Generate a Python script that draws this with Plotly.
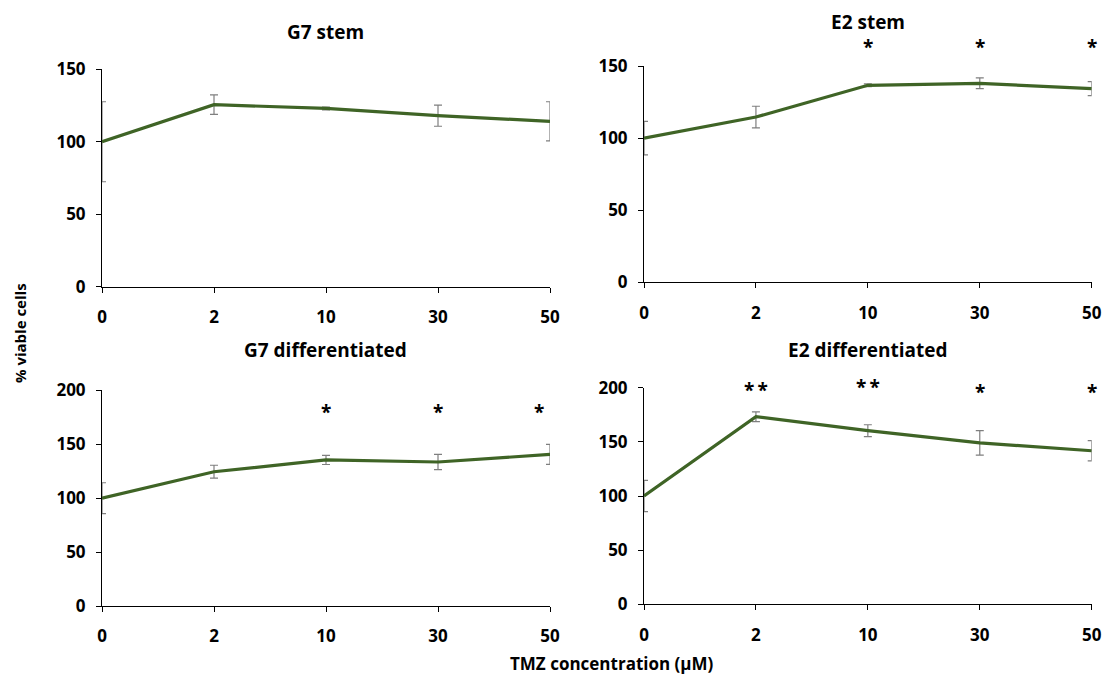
import plotly.graph_objects as go

# TMZ doses (equally spaced categories on the x axis)
doses = ["0", "2", "10", "30", "50"]

# % viable cells (mean) and error (SD) per panel
g7_stem = [100, 125.6, 123.0, 118.0, 114.1]
g7_stem_err = [27.6, 6.7, 1.0, 7.3, 13.5]

e2_stem = [100, 114.6, 136.6, 138.0, 134.3]
e2_stem_err = [11.6, 7.5, 1.0, 3.7, 4.8]

g7_diff = [100, 124.5, 135.4, 133.5, 140.6]
g7_diff_err = [14.3, 6.0, 4.2, 7.0, 9.3]

e2_diff = [100, 173.2, 160.3, 149.0, 141.8]
e2_diff_err = [14.4, 4.5, 5.5, 11.3, 9.4]

# significance markers per dose
e2_stem_sig = ["", "", "*", "*", "*"]
g7_diff_sig = ["", "", "*", "*", "*"]
e2_diff_sig = ["", "*\u2009*", "*\u2009*", "*", "*"]

W, H = 1120, 684
LINE = "#3f6426"
ERR = "#7f7f7f"
FONT = "Open Sans"

panels = [
    # title, values, errors, sig, x px range, y px range (top, bottom), ymax, sig px rows
    ("G7 stem", g7_stem, g7_stem_err, None, (102, 550), (69.3, 286.7), 150, None),
    ("E2 stem", e2_stem, e2_stem_err, e2_stem_sig, (644, 1091.7), (66, 282.3), 150,
     [0, 0, 47, 47, 47]),
    ("G7 differentiated", g7_diff, g7_diff_err, g7_diff_sig, (102, 550), (390.3, 606), 200,
     [0, 0, 412, 412, 412]),
    ("E2 differentiated", e2_diff, e2_diff_err, e2_diff_sig, (644, 1091.7), (387.7, 604.3), 200,
     [0, 390, 387, 392, 392]),
]
title_y = [32, 22, 350, 350]

fig = go.Figure()
x_idx = list(range(len(doses)))

for i, (title, vals, errs, sig, xr, yr, ymax, sig_px) in enumerate(panels):
    n = "" if i == 0 else str(i + 1)
    xa, ya = "x" + n, "y" + n
    fig.add_trace(go.Scatter(
        x=x_idx, y=vals, mode="lines", xaxis=xa, yaxis=ya,
        line=dict(color=LINE, width=3.2),
        error_y=dict(type="data", array=errs, visible=True, color=ERR,
                     thickness=1.2, width=4),
        cliponaxis=False, showlegend=False,
    ))
    xd = [xr[0] / W, xr[1] / W]
    yd = [1 - yr[1] / H, 1 - yr[0] / H]
    axis_common = dict(showline=True, linecolor="#000000", linewidth=1,
                       ticks="outside", ticklen=5, tickcolor="#000000",
                       showgrid=False, zeroline=False, automargin=False,
                       tickfont=dict(family=FONT, size=17, color="#000000", weight="bold"))
    fig.update_layout(**{
        "xaxis" + n: dict(domain=xd, range=[0, len(doses) - 1], anchor=ya,
                          tickmode="array", tickvals=x_idx, ticktext=doses,
                          ticklabelstandoff=10, **axis_common),
        "yaxis" + n: dict(domain=yd, range=[0, ymax], anchor=xa, dtick=50,
                          ticklabelstandoff=7, **axis_common),
    })
    fig.add_annotation(text="<b>%s</b>" % title, xref="paper", yref="paper",
                       x=(xd[0] + xd[1]) / 2, y=1 - title_y[i] / H,
                       showarrow=False, xanchor="center", yanchor="middle",
                       font=dict(family=FONT, size=19, color="#000000"))
    if sig:
        for xi, s, py in zip(x_idx, sig, sig_px):
            if s:
                xpos = xi - 0.1 if (i == 2 and xi == 4) else xi
                fig.add_annotation(text="<b>%s</b>" % s, x=xpos, y=1 - py / H,
                                   xref=xa, yref="paper", showarrow=False,
                                   xanchor="center", yanchor="middle",
                                   font=dict(family=FONT, size=19, color="#000000"))

fig.add_annotation(text="<b>% viable cells</b>", xref="paper", yref="paper",
                   x=20 / W, y=1 - 333 / H, textangle=-90, showarrow=False,
                   xanchor="center", yanchor="middle",
                   font=dict(family=FONT, size=15, color="#000000"))
fig.add_annotation(text="<b>TMZ concentration (µM)</b>", xref="paper", yref="paper",
                   x=612 / W, y=1 - 663 / H, showarrow=False,
                   xanchor="center", yanchor="middle",
                   font=dict(family=FONT, size=17, color="#000000"))

fig.update_layout(width=W, height=H,
                  margin=dict(l=0, r=0, t=0, b=0, pad=0, autoexpand=False),
                  paper_bgcolor="white", plot_bgcolor="white")

# place the fixed-size figure flush with the page corner
fig.write_html("out.html",
               post_script="document.body.style.margin='0';"
                           "document.body.style.overflow='hidden';")
